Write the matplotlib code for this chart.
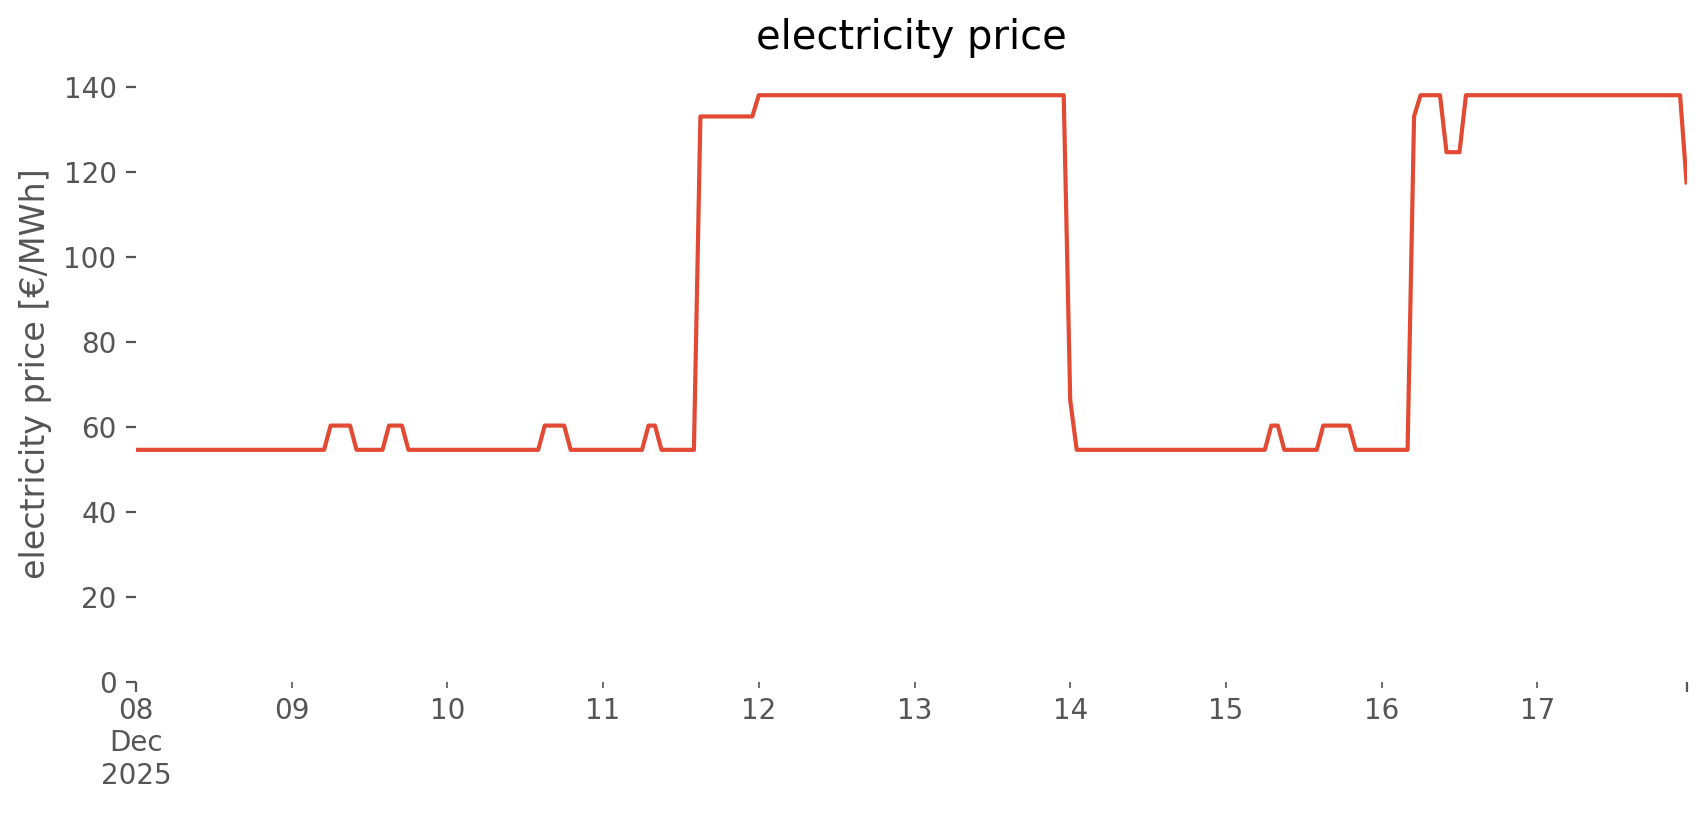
import matplotlib
matplotlib.use("Agg")
import matplotlib.pyplot as plt
import matplotlib.dates as mdates
from matplotlib.ticker import FixedLocator, FixedFormatter, NullFormatter
import numpy as np
import pandas as pd

# ---- data: hourly electricity price [EUR/MWh], one list per day ----
start = "2025-12-08 00:00"
day_08 = [54.6] * 24
day_09 = [54.6] * 6 + [60.3] * 4 + [54.6] * 5 + [60.3] * 3 + [54.6] * 6
day_10 = [54.6] * 15 + [60.3] * 4 + [54.6] * 5
day_11 = [54.6] * 7 + [60.3] * 2 + [54.6] * 6 + [133.0] * 9
day_12 = [138.0] * 24
day_13 = [138.0] * 24
day_14 = [66.3] + [54.6] * 23
day_15 = [54.6] * 7 + [60.3] * 2 + [54.6] * 6 + [60.3] * 5 + [54.6] * 4
day_16 = [54.6] * 5 + [133.0] + [138.0] * 4 + [124.6] * 3 + [138.0] * 11
day_17 = [138.0] * 23 + [117.5]

day_labels = ["08\nDec\n2025", "09", "10", "11", "12", "13", "14", "15", "16", "17"]
yticks = [0, 20, 40, 60, 80, 100, 120, 140]

prices = day_08 + day_09 + day_10 + day_11 + day_12 + day_13 + day_14 + day_15 + day_16 + day_17
times = pd.date_range(start, periods=len(prices), freq="h")
series = pd.Series(prices, index=times)

plt.style.use("ggplot")
plt.rcParams["axes.facecolor"] = "white"
plt.rcParams["font.size"] = 10

fig = plt.figure(figsize=(8.53, 4.075), dpi=200)
ax = fig.add_axes([0.0797, 0.1632, 0.9089, 0.7565])

ax.plot(series.index, series.values, color="#E24A33", lw=1.5)

ax.set_xlim(times[0], times[-1])
ax.set_ylim(0, 145)
ax.grid(False)
for s in ax.spines.values():
    s.set_visible(False)

# x ticks: long ticks at the ends, short labelled ticks at day starts
ax.xaxis.remove_overlapping_locs = False
ends = [mdates.date2num(times[0]), mdates.date2num(times[-1])]
ax.xaxis.set_major_locator(FixedLocator(ends))
ax.xaxis.set_major_formatter(NullFormatter())
days = pd.date_range(start, periods=len(day_labels), freq="D")
ax.xaxis.set_minor_locator(FixedLocator(mdates.date2num(days)))
ax.xaxis.set_minor_formatter(FixedFormatter(day_labels))
ax.tick_params(axis="x", which="both", colors="#555555")

ax.set_yticks(yticks)
ax.tick_params(axis="y", colors="#555555")

ax.set_title("electricity price")
ax.set_ylabel("electricity price [€/MWh]")

fig.savefig("out.png", dpi=200)
